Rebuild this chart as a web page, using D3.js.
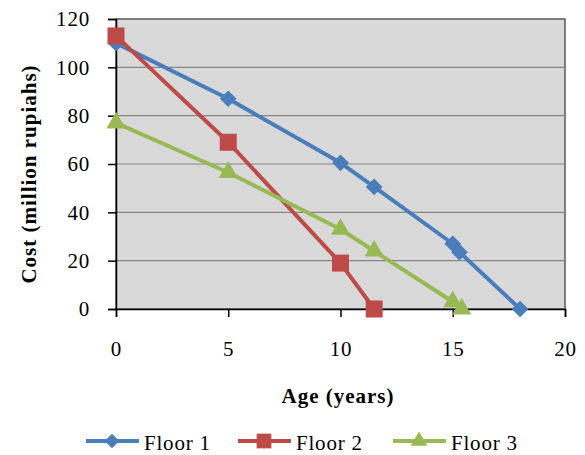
<!DOCTYPE html>
<html>
<head>
<meta charset="utf-8">
<script src="https://cdnjs.cloudflare.com/ajax/libs/d3/7.8.5/d3.min.js"></script>
<style>
  body { margin: 0; background: #fff; }
  #chart text { font-family: 'Liberation Serif', 'Times New Roman', serif; fill: #000; }
</style>
</head>
<body>
<svg id="chart"></svg>
<script>
const floor1X = [0, 5, 10, 11.5, 15, 15.3, 18];
const floor1Y = [110, 87, 60.5, 50.5, 27, 23.5, 0];
const floor2X = [0, 5, 10, 11.5];
const floor2Y = [113, 69, 19, 0];
const floor3X = [0, 5, 10, 11.5, 15, 15.4];
const floor3Y = [77, 56.5, 33, 24, 3, 0];
const xTicks = [0, 5, 10, 15, 20];
const yTicks = [0, 20, 40, 60, 80, 100, 120];

const width = 585, height = 455;
const plot = { left: 116, right: 565, top: 19, bottom: 309 };

const svg = d3.select('#chart').attr('width', width).attr('height', height);

const x = d3.scaleLinear().domain([0, 20]).range([plot.left, plot.right]);
const y = d3.scaleLinear().domain([0, 120]).range([plot.bottom, plot.top]);

// plot background + frame
svg.append('rect')
  .attr('x', plot.left).attr('y', plot.top)
  .attr('width', plot.right - plot.left).attr('height', plot.bottom - plot.top)
  .attr('fill', '#d9d9d9')
  .attr('stroke', '#595959').attr('stroke-width', 1.5);

// gridlines
svg.append('g')
  .selectAll('line')
  .data(yTicks.filter(d => d > 0 && d < 120))
  .enter().append('line')
  .attr('x1', plot.left).attr('x2', plot.right)
  .attr('y1', d => y(d)).attr('y2', d => y(d))
  .attr('stroke', '#868686').attr('stroke-width', 1.2);

// axes
const yAxis = svg.append('g')
  .attr('transform', `translate(${plot.left},0)`)
  .call(d3.axisLeft(y).tickValues(yTicks).tickSize(8).tickPadding(18));
const xAxis = svg.append('g')
  .attr('transform', `translate(0,${plot.bottom})`)
  .call(d3.axisBottom(x).tickValues(xTicks).tickSize(8).tickPadding(24));

[yAxis, xAxis].forEach(a => {
  a.attr('font-size', 21);
  a.select('.domain').attr('stroke', '#000').attr('stroke-width', 1.5);
  a.selectAll('.tick line').attr('stroke', '#000').attr('stroke-width', 1.5);
  a.selectAll('.tick text').style('letter-spacing', '0.8px');
});

// axis titles
svg.append('text')
  .attr('transform', `translate(36,${(plot.top + plot.bottom) / 2 + 10}) rotate(-90)`)
  .attr('text-anchor', 'middle')
  .style('font-size', '21px').style('font-weight', 'bold')
  .style('letter-spacing', '1px')
  .text('Cost (million rupiahs)');

svg.append('text')
  .attr('x', 338).attr('y', 403)
  .attr('text-anchor', 'middle')
  .style('font-size', '21px').style('font-weight', 'bold')
  .style('letter-spacing', '1px')
  .text('Age (years)');

const series = [
  { name: 'Floor 1', xs: floor1X, ys: floor1Y, color: '#4a7ebb', shape: d3.symbolSquare, size: 140, rot: 45 },
  { name: 'Floor 2', xs: floor2X, ys: floor2Y, color: '#be4b48', shape: d3.symbolSquare, size: 289, rot: 0 },
  { name: 'Floor 3', xs: floor3X, ys: floor3Y, color: '#98b954', shape: d3.symbolTriangle, size: 160, rot: 0 }
];

const line = d3.line().x(d => x(d[0])).y(d => y(d[1]));

series.forEach(s => {
  const pts = s.xs.map((v, i) => [v, s.ys[i]]);
  const g = svg.append('g');
  g.append('path')
    .datum(pts)
    .attr('d', line)
    .attr('fill', 'none')
    .attr('stroke', s.color)
    .attr('stroke-width', 4)
    .attr('stroke-linejoin', 'round');
  g.selectAll('path.marker')
    .data(pts)
    .enter().append('path')
    .attr('class', 'marker')
    .attr('transform', d => `translate(${x(d[0])},${y(d[1])}) rotate(${s.rot})`)
    .attr('d', d3.symbol().type(s.shape).size(s.size))
    .attr('fill', s.color);
});

// legend
const legendX = [86, 238, 393];
const legendY = 441;
series.forEach((s, i) => {
  const g = svg.append('g').attr('transform', `translate(${legendX[i]},${legendY})`);
  g.append('line')
    .attr('x1', 0).attr('x2', 53)
    .attr('stroke', s.color).attr('stroke-width', 4);
  g.append('path')
    .attr('transform', `translate(26,0) rotate(${s.rot})`)
    .attr('d', d3.symbol().type(s.shape).size(s.size * 0.75))
    .attr('fill', s.color);
  g.append('text')
    .attr('x', 58).attr('y', 9)
    .style('font-size', '21px')
    .style('letter-spacing', '0.8px')
    .text(s.name);
});
</script>
</body>
</html>
